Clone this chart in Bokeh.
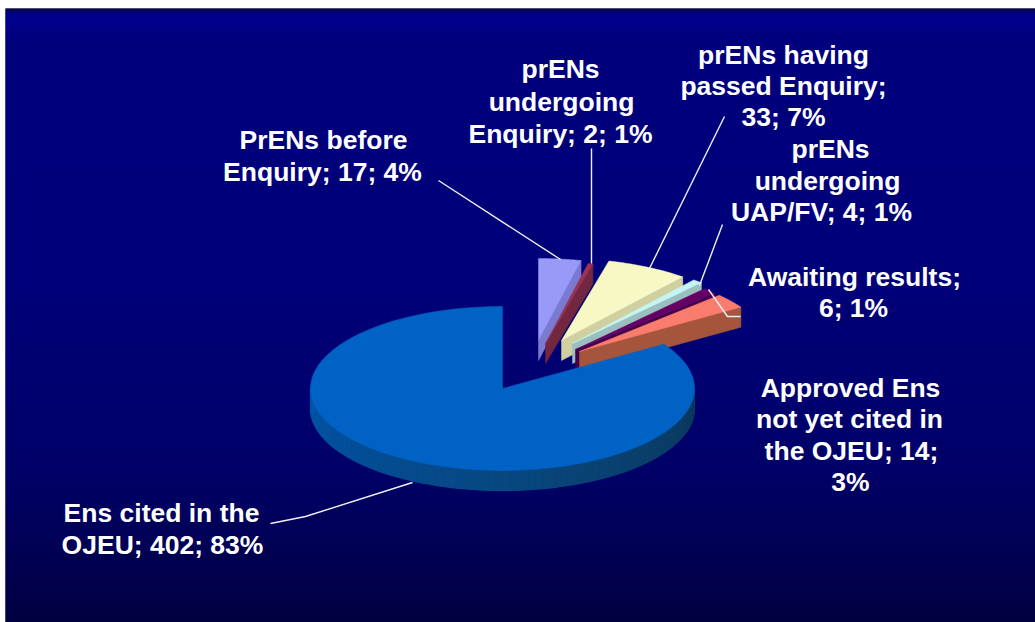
import numpy as np
from bokeh.plotting import figure
from bokeh.models import Range1d
from bokeh.embed import file_html
from bokeh.resources import INLINE
from bokeh.core.properties import value

# ---- data (largest slice first, counter-clockwise from 12 o'clock)
categories = ["Ens cited in the OJEU", "Approved Ens not yet cited in the OJEU",
              "Awaiting results", "prENs undergoing UAP/FV",
              "prENs having passed Enquiry", "prENs undergoing Enquiry",
              "PrENs before Enquiry"]
counts = [402, 14, 6, 4, 33, 2, 17]

# ---- styling / layout
TOP = ["#0062C4", "#F97C6C", "#660066", "#C4F4F4", "#F8F8C4", "#993355", "#9999F8"]
SIDE = ["#0A4A84", "#A4553C", "#44004C", "#99BFBF", "#CFCFA0", "#73263F", "#7A7AD0"]
OFF_X = [0, 77, 73, 70, 59, 43, 36]
OFF_Y = [0, -37, -39, -45, -48, -45, -48]
CX, CY, RX, RY, DEPTH = 502, 388, 192, 82, 20

label_lines = [
    (["PrENs before", "Enquiry; 17; 4%"], [323, 322], [139, 171]),
    (["prENs", "undergoing", "Enquiry; 2; 1%"], [560, 561, 560], [68, 101, 133]),
    (["prENs having", "passed Enquiry;", "33; 7%"], [783, 783, 783], [54, 85, 116]),
    (["prENs", "undergoing", "UAP/FV; 4; 1%"], [830, 827, 821], [148, 180, 211]),
    (["Awaiting results;", "6; 1%"], [854, 853], [276, 307]),
    (["Approved Ens", "not yet cited in", "the OJEU; 14;", "3%"], [850, 849, 851, 850], [387, 418, 450, 481]),
    (["Ens cited in the", "OJEU; 402; 83%"], [161, 162], [512, 544]),
]
leaders = [
    ([438, 560], [180, 259]),
    ([591, 591], [148, 263]),
    ([724, 648], [116, 270]),
    ([722, 699], [224, 285]),
    ([708, 727, 740], [289, 316, 316]),
    ([412, 305, 270], [482, 516, 523]),
]
bg_stops = [(8, (10, 10, 60)), (12, (0, 0, 136)), (18, (0, 0, 144)), (32, (0, 0, 128)),
            (300, (0, 0, 120)), (470, (0, 0, 104)), (622, (0, 0, 64))]

p = figure(width=1030, height=614, output_backend="svg", toolbar_location=None,
           x_range=Range1d(5, 1035), y_range=Range1d(622, 8), min_border=0,
           margin=(8, 0, 0, 5), outline_line_color=None)
p.axis.visible = False
p.grid.visible = False
p.background_fill_color = "#000078"
p.border_fill_color = "#000078"

# background gradient
ys = np.arange(8, 623, 2)
ss = [s[0] for s in bg_stops]
cols = [np.interp(ys, ss, [s[1][i] for s in bg_stops]) for i in range(3)]
hexes = ["#%02x%02x%02x" % (int(r), int(g), int(b)) for r, g, b in zip(*cols)]
p.quad(left=5, right=1035, bottom=ys + 2, top=ys, fill_color=hexes, line_color=hexes, line_width=0.5)

# slices
total = sum(counts)
angles = np.cumsum([0] + [c / total * 360 for c in counts])
starts = 90 + angles[:-1]
ends = 90 + angles[1:]

def arc(a0, a1, n=40):
    t = np.radians(np.linspace(a0, a1, n))
    return RX * np.cos(t), -RY * np.sin(t)

# small slices back-to-front: lavender first, salmon last
for i in range(len(counts) - 1, 0, -1):
    a0, a1 = starts[i] % 360, ends[i] % 360
    if a1 < a0:
        a1 += 360
    ax, ay = CX + OFF_X[i], CY + OFF_Y[i]
    dx, dy = arc(a0, a1)
    rx, ry = RX * np.cos(np.radians(a0)), -RY * np.sin(np.radians(a0))
    p.patch([ax, ax + rx, ax + rx, ax], [ay, ay + ry, ay + ry + DEPTH, ay + DEPTH],
            fill_color=SIDE[i], line_color=SIDE[i], line_width=0.5)
    p.patch(np.r_[ax, ax + dx], np.r_[ay, ay + dy], fill_color=TOP[i], line_color=TOP[i], line_width=0.5)

# big slice: outer wall with shading then top face
a = np.linspace(180, 360, 91)
c0, c1, c2 = np.array([0, 84, 170]), np.array([8, 72, 128]), np.array([12, 56, 90])
for k in range(len(a) - 1):
    f = k / (len(a) - 2)
    c = c0 + (c1 - c0) * f * 2 if f < 0.5 else c1 + (c2 - c1) * (f - 0.5) * 2
    col = "#%02x%02x%02x" % tuple(int(v) for v in c)
    dx, dy = arc(a[k], a[k + 1], 2)
    p.patch(CX + np.r_[dx, dx[::-1]], CY + np.r_[dy, dy[::-1] + DEPTH], fill_color=col, line_color=col, line_width=1.2)

dx, dy = arc(starts[0], ends[0], 200)
p.patch(np.r_[CX, CX + dx], np.r_[CY, CY + dy], fill_color=TOP[0], line_color=TOP[0], line_width=0.5)

# leader lines
for lx, ly in leaders:
    p.line(lx, ly, line_color="#F0F0F8", line_width=1.4)

# labels
for lines, xs, yy in label_lines:
    p.text(xs, yy, text=lines, text_font=value("Liberation Sans"), text_font_style="bold",
           text_font_size="26.5px", text_color="#FFFFFF", text_align="center", text_baseline="middle")

open("out.html", "w").write(file_html(p, INLINE))
